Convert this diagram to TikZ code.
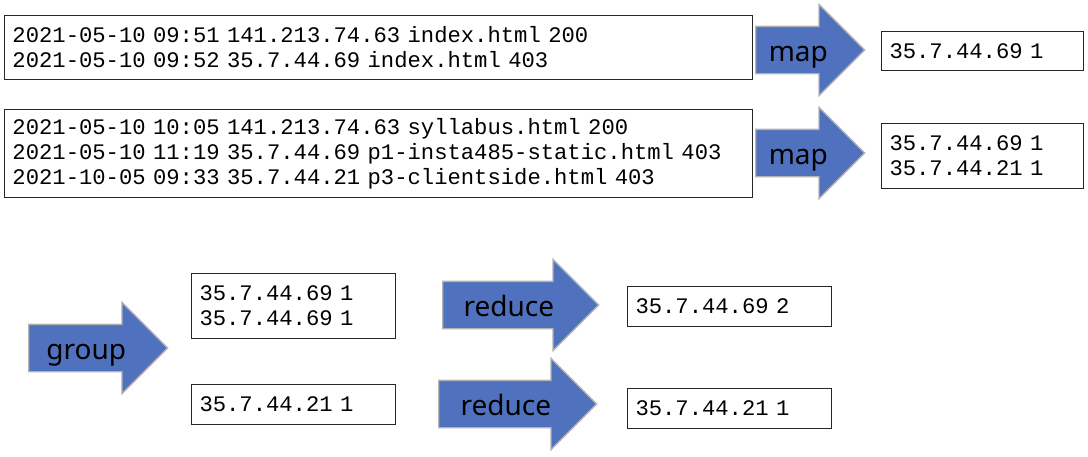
\documentclass[tikz,border=0pt]{standalone}
\usepackage{fontspec}
\usepackage{xcolor}
\usepackage{tikz}
\usetikzlibrary{shapes.arrows}
\newfontfamily\logfont{Liberation Mono}
\newfontfamily\opfont{Noto Sans}
\definecolor{opblue}{RGB}{80,114,190}

\begin{document}
\begin{tikzpicture}[
    x=1pt, y=-1pt,
    logbox/.style={rectangle, draw=black!85, line width=1pt, anchor=north west, align=left,
        inner xsep=8pt, inner ysep=0pt, text width=#1, font=\logfont\fontsize{22.2}{25}\selectfont},
    oparrow/.style={single arrow, draw=black!30, fill=opblue, line width=1.3pt, anchor=tail,
        single arrow head extend=22pt, minimum width=90pt, inner xsep=4pt, inner ysep=0pt,
        text height=34pt, text depth=12pt, font=\opfont\fontsize{28}{30}\selectfont}
]
\useasboundingbox (0,0) rectangle (1088,456);

\node[logbox=732pt, minimum height=64pt] (log1) at (4,15)
    {2021-05-10 09:51 141.213.74.63 index.html 200\\2021-05-10 09:52 35.7.44.69 index.html 403};
\node[logbox=732pt, minimum height=88pt] (log2) at (4,109)
    {2021-05-10 10:05 141.213.74.63 syllabus.html 200\\2021-05-10 11:19 35.7.44.69 p1-insta485-static.html 403\\2021-10-05 09:33 35.7.44.21 p3-clientside.html 403};

\node[oparrow, minimum height=109pt] (map1) at (755,50) {map};
\node[oparrow, minimum height=109pt] (map2) at (755,153) {map};

\node[logbox=186pt, minimum height=39pt] (out1) at (881,31) {35.7.44.69 1};
\node[logbox=186pt, minimum height=65pt] (out2) at (881,123) {35.7.44.69 1\\35.7.44.21 1};

\node[oparrow, minimum height=139pt] (group) at (28,348) {group};

\node[logbox=188pt, minimum height=65pt] (grp1) at (191,273) {35.7.44.69 1\\35.7.44.69 1};
\node[logbox=188pt, minimum height=40pt] (grp2) at (191,384) {35.7.44.21 1};

\node[oparrow, minimum height=156pt] (reduce1) at (442,305) {reduce};
\node[oparrow, minimum height=158pt] (reduce2) at (438,404) {reduce};

\node[logbox=188pt, minimum height=40pt] (res1) at (627,286) {35.7.44.69 2};
\node[logbox=188pt, minimum height=40pt] (res2) at (627,388) {35.7.44.21 1};
\end{tikzpicture}
\end{document}
